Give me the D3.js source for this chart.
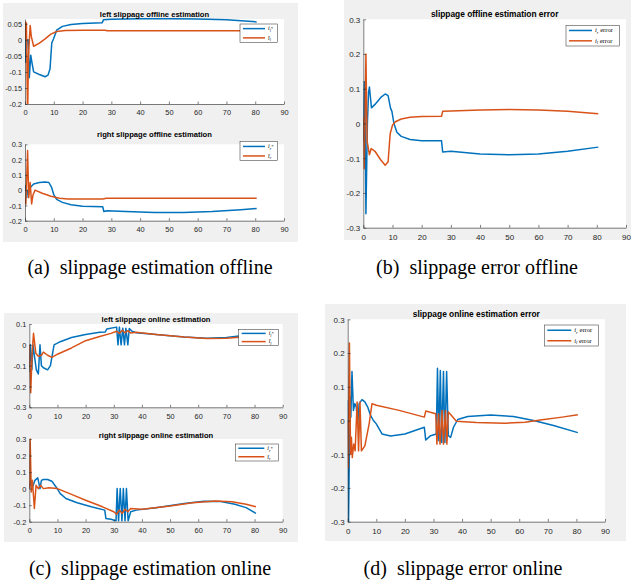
<!DOCTYPE html>
<html>
<head>
<meta charset="utf-8">
<script src="https://cdn.jsdelivr.net/npm/d3@7"></script>
<style>
  html, body { margin: 0; padding: 0; background: #ffffff; }
  svg { display: block; }
</style>
</head>
<body>
<svg id="fig" width="631" height="585"></svg>
<script>
// ---- data: [time, value] samples for each estimate ----
const xTicks = [0, 10, 20, 30, 40, 50, 60, 70, 80, 90];

// (a) offline, left wheel
const leftOffTrue = [[0,0.02],[0.3,-0.07],[0.6,0.0],[1.1,0.0],[1.5,-0.118],[2.0,-0.048],[2.4,-0.07],[3,-0.1],[5,-0.108],[7,-0.115],[8,-0.11],[8.7,-0.09],[9.3,-0.01],[10,0.005],[11,0.03],[13,0.042],[16,0.048],[20,0.051],[26.8,0.053],[27.3,0.063],[30,0.064],[40,0.066],[50,0.066],[60,0.065],[70,0.063],[80.5,0.056]];
const leftOffEst = [[0,0.0],[0.3,0.055],[0.5,0.05],[0.9,-0.25],[1.2,-0.05],[1.8,0.045],[2.2,0.01],[3,-0.02],[5,-0.01],[7,0.003],[9,0.018],[11,0.026],[14,0.029],[20,0.03],[28,0.03],[28.5,0.028],[50,0.028],[80.5,0.028]];
// (a) offline, right wheel
const rightOffTrue = [[0,0.0],[0.3,0.03],[0.6,-0.05],[0.9,0.0],[1.3,0.0],[2,0.02],[3,0.04],[5,0.05],[7,0.053],[8.3,0.05],[9.2,0.02],[10,-0.03],[11,-0.06],[13,-0.08],[16,-0.095],[20,-0.105],[27,-0.108],[27.4,-0.14],[28.5,-0.135],[35,-0.14],[45,-0.146],[55,-0.146],[65,-0.14],[75,-0.128],[80.5,-0.12]];
const rightOffEst = [[0,-0.05],[0.3,-0.09],[0.9,0.26],[1.3,-0.05],[1.8,0.05],[2.3,-0.09],[2.8,-0.03],[3.5,0.0],[6,-0.02],[9,-0.04],[12,-0.053],[15,-0.058],[27,-0.058],[28.3,-0.053],[80.5,-0.053]];
// (b) offline errors
const offErrR = [[0,-0.05],[0.3,0.12],[0.5,0.12],[0.9,-0.26],[1.4,0.0],[1.8,0.09],[2.1,0.105],[2.8,0.045],[4,0.055],[6,0.075],[7.5,0.085],[8.5,0.08],[9.3,0.045],[9.8,0.035],[10.5,0.0],[11.5,-0.025],[13,-0.037],[16,-0.046],[20,-0.05],[26.8,-0.05],[27.2,-0.082],[30,-0.08],[40,-0.088],[50,-0.09],[60,-0.088],[70,-0.08],[80.5,-0.068]];
const offErrL = [[0,0.02],[0.3,-0.13],[0.9,0.2],[1.3,-0.05],[1.7,-0.07],[2.1,-0.09],[2.7,-0.072],[4,-0.08],[6,-0.105],[7.5,-0.12],[8.5,-0.11],[9.2,-0.03],[10,-0.005],[11,0.005],[13,0.013],[16,0.018],[20,0.02],[26.8,0.021],[27.2,0.035],[30,0.036],[40,0.039],[50,0.04],[60,0.039],[70,0.035],[80.5,0.028]];
// (c) online, left wheel
const leftOnTrue = [[0,-0.13],[0.4,0.0],[0.9,-0.12],[1.3,0.0],[1.8,-0.05],[2.5,-0.12],[3.2,-0.14],[3.8,0.0],[4.3,-0.1],[5,-0.11],[6.5,-0.12],[7.5,-0.1],[8.8,0.0],[11,0.015],[15,0.035],[20,0.05],[25,0.06],[27,0.062],[27.5,0.076],[31,0.085],[31.5,0.0],[32,0.085],[32.6,0.0],[33.2,0.08],[33.8,0.0],[34.3,0.08],[35,0.0],[35.5,0.078],[36.5,0.065],[38,0.058],[45,0.05],[55,0.038],[63,0.032],[70,0.035],[76,0.045],[80.5,0.055]];
const leftOnEst = [[0,0.0],[0.5,-0.23],[1.0,-0.04],[1.5,0.055],[2.3,-0.04],[3.2,-0.055],[4.3,-0.05],[5,-0.035],[6.5,-0.05],[8,-0.06],[10,-0.045],[15,-0.015],[20,0.02],[25,0.04],[29,0.055],[31,0.065],[32,0.055],[33,0.07],[34,0.058],[35,0.068],[36,0.057],[38,0.06],[45,0.05],[55,0.037],[63,0.03],[70,0.032],[80.5,0.042]];
// (c) online, right wheel
const rightOnTrue = [[0,0.0],[0.5,0.05],[1.0,0.0],[2,0.05],[3,0.065],[3.8,0.0],[4.3,0.05],[5,0.055],[6.5,0.055],[8,0.045],[9.5,0.01],[11,-0.03],[13,-0.06],[17,-0.085],[22,-0.11],[26.8,-0.13],[27.2,-0.18],[29,-0.185],[30.8,-0.195],[31.2,0.0],[31.7,-0.195],[32.3,0.0],[32.9,-0.195],[33.4,0.0],[34,-0.195],[34.5,0.0],[35.1,-0.195],[36,-0.14],[38,-0.13],[45,-0.115],[55,-0.09],[62,-0.077],[68,-0.078],[73,-0.095],[77,-0.115],[80.5,-0.15]];
const rightOnEst = [[0,0.0],[0.3,0.3],[0.7,-0.02],[1.1,0.05],[1.8,-0.12],[2.4,0.02],[3.2,0.0],[4,0.02],[5,0.0],[7,0.005],[10,0.0],[15,-0.035],[20,-0.07],[26,-0.11],[30,-0.14],[31,-0.155],[32,-0.13],[33,-0.15],[34,-0.125],[35,-0.14],[36,-0.12],[40,-0.125],[50,-0.105],[58,-0.085],[66,-0.075],[72,-0.08],[77,-0.095],[80.5,-0.11]];
// (d) online errors
const onErrR = [[0,0.06],[0.3,-0.3],[0.8,0.07],[1.1,0.01],[1.5,0.145],[2,0.03],[2.5,0.05],[3,0.04],[3.5,-0.01],[4,0.05],[5,0.062],[6,0.055],[7,0.04],[8,0.015],[9,0.0],[10,-0.01],[12,-0.04],[15,-0.046],[20,-0.04],[26.8,-0.02],[27.3,-0.058],[29,-0.045],[31,-0.04],[31.4,0.155],[31.9,-0.06],[32.4,0.148],[32.9,-0.065],[33.5,0.145],[34,-0.065],[34.6,0.145],[35.2,-0.045],[36,-0.05],[37,-0.02],[38.5,0.003],[42,0.012],[50,0.016],[58,0.012],[65,0.0],[72,-0.015],[80.5,-0.036]];
const onErrL = [[0,0.0],[0.2,-0.14],[0.6,0.23],[1.0,-0.1],[1.3,-0.05],[1.6,-0.11],[2.1,-0.07],[2.6,-0.09],[3.3,0.055],[3.8,-0.09],[4.3,0.055],[4.8,-0.09],[6,-0.075],[7.5,-0.01],[8.5,0.05],[10,0.045],[18,0.03],[26.8,0.01],[27.3,0.028],[30.8,0.02],[31.2,-0.07],[31.8,0.02],[32.3,-0.07],[33,0.03],[33.5,-0.07],[34.2,0.03],[34.7,-0.07],[35.2,0.025],[36,0.018],[38,-0.002],[45,-0.006],[55,-0.008],[62,-0.005],[68,0.002],[75,0.01],[80.5,0.017]];

// y tick values per axes
const yTicksLeftOff = [-0.2, -0.15, -0.1, -0.05, 0, 0.05];
const yTicksRightOff = [-0.2, -0.1, 0, 0.1, 0.2, 0.3];
const yTicksErr = [-0.3, -0.2, -0.1, 0, 0.1, 0.2, 0.3];
const yTicksLeftOn = [-0.3, -0.2, -0.1, 0, 0.1];
const yTicksRightOn = [-0.2, -0.1, 0, 0.1, 0.2, 0.3];

const captions = ["(a)  slippage estimation offline", "(b)  slippage error offline",
                  "(c)  slippage estimation online", "(d)  slippage error online"];

// ---- styling ----
const BLUE = "#0072BD", ORANGE = "#D95319", AXIS = "#262626", BG = "#F0F0F0";
const svg = d3.select("#fig");

// grey figure backgrounds
const figures = [
  {x: 3, y: 3, w: 295, h: 239},
  {x: 344, y: 0, w: 287, h: 240},
  {x: 4, y: 313, w: 294, h: 229},
  {x: 325, y: 304, w: 301, h: 237}
];
svg.selectAll("rect.fig").data(figures).join("rect")
  .attr("class", "fig")
  .attr("x", d => d.x).attr("y", d => d.y).attr("width", d => d.w).attr("height", d => d.h)
  .attr("fill", BG);

const fmt = v => String(+v.toFixed(2));
let clipId = 0;

function panel(o) {
  const x = d3.scaleLinear().domain([0, 90]).range([o.left, o.right]);
  const y = d3.scaleLinear().domain(o.ydom).range([o.bottom, o.top]);
  const g = svg.append("g");
  g.append("rect").attr("x", o.left).attr("y", o.top)
    .attr("width", o.right - o.left).attr("height", o.bottom - o.top).attr("fill", "#fff");

  const id = "clip" + (clipId++);
  g.append("clipPath").attr("id", id).append("rect")
    .attr("x", o.left).attr("y", o.top - 1).attr("width", o.right - o.left).attr("height", o.bottom - o.top + 1);

  const line = d3.line().x(d => x(d[0])).y(d => y(d[1]));
  const series = [{d: o.s1, c: BLUE}, {d: o.s2, c: ORANGE}];
  g.append("g").attr("clip-path", `url(#${id})`)
    .selectAll("path").data(series).join("path")
    .attr("d", s => line(s.d)).attr("fill", "none")
    .attr("stroke", s => s.c).attr("stroke-width", o.lw).attr("stroke-linejoin", "round");

  const tl = o.tick;
  const xa = g.append("g").attr("transform", `translate(0,${o.bottom})`)
    .call(d3.axisBottom(x).tickValues(xTicks).tickSizeInner(-tl).tickSizeOuter(0).tickPadding(o.fs * 0.55 + 2).tickFormat(d3.format("d")));
  const ya = g.append("g").attr("transform", `translate(${o.left},0)`)
    .call(d3.axisLeft(y).tickValues(o.yticks).tickSizeInner(-tl).tickSizeOuter(0).tickPadding(3).tickFormat(fmt));
  [xa, ya].forEach(a => {
    a.select(".domain").attr("stroke", AXIS).attr("stroke-width", 0.6);
    a.selectAll(".tick line").attr("stroke", AXIS).attr("stroke-width", 0.6);
    a.selectAll(".tick text").attr("fill", AXIS).attr("font-family", "Liberation Sans, Arial, sans-serif").attr("font-size", o.fs);
  });
  ya.selectAll(".tick text").attr("dy", "0.35em");

  g.append("text").attr("x", (o.left + o.right) / 2).attr("y", o.titleY)
    .attr("text-anchor", "middle").attr("font-family", "Liberation Sans, Arial, sans-serif")
    .attr("font-weight", "bold").attr("font-size", o.tfs).attr("fill", "#000").text(o.title);

  // legend
  const L = o.legend;
  const lg = g.append("g");
  lg.append("rect").attr("x", L.x).attr("y", L.y).attr("width", L.w).attr("height", L.h)
    .attr("fill", "#fff").attr("stroke", AXIS).attr("stroke-width", 0.5);
  const rowH = L.h / 2;
  L.labels.forEach((lab, i) => {
    const cy = L.y + rowH * (i + 0.5);
    lg.append("line").attr("x1", L.x + 3).attr("x2", L.x + 3 + L.sample).attr("y1", cy).attr("y2", cy)
      .attr("stroke", i === 0 ? BLUE : ORANGE).attr("stroke-width", o.lw);
    const t = lg.append("text").attr("x", L.x + 6 + L.sample).attr("y", cy + L.fs * 0.3)
      .attr("font-family", "Liberation Serif, Times New Roman, serif").attr("font-size", L.fs).attr("fill", "#000");
    t.append("tspan").attr("font-style", "italic").text(lab[0]);
    t.append("tspan").attr("font-style", "italic").attr("font-size", L.fs * 0.7).attr("dy", L.fs * 0.25).text(lab[1]);
    if (lab[2]) t.append("tspan").attr("font-size", L.fs * (lab[2] === "*" ? 0.8 : 1)).attr("dy", -L.fs * 0.25).text(lab[2]);
  });
}

// (a) top and bottom
panel({left: 25, right: 284, top: 19, bottom: 104, ydom: [-0.2, 0.065], yticks: yTicksLeftOff,
  s1: leftOffTrue, s2: leftOffEst, fs: 7.4, tfs: 7.6, lw: 1.5, tick: 2.5, titleY: 16.5,
  title: "left slippage offline estimation",
  legend: {x: 240, y: 24, w: 37.5, h: 18.5, sample: 22, fs: 6, labels: [["i", "l", "*"], ["î", "l", ""]]}});
panel({left: 25, right: 284, top: 144.3, bottom: 220.7, ydom: [-0.2, 0.3], yticks: yTicksRightOff,
  s1: rightOffTrue, s2: rightOffEst, fs: 7.4, tfs: 7.6, lw: 1.5, tick: 2.5, titleY: 136.5,
  title: "right slippage offline estimation",
  legend: {x: 240, y: 141.7, w: 37.5, h: 19, sample: 22, fs: 6, labels: [["i", "r", "*"], ["î", "r", ""]]}});
// (b)
panel({left: 363.3, right: 626, top: 19.3, bottom: 227.7, ydom: [-0.3, 0.3], yticks: yTicksErr,
  s1: offErrR, s2: offErrL, fs: 8, tfs: 8.4, lw: 1.5, tick: 2.8, titleY: 17,
  title: "slippage offline estimation error",
  legend: {x: 566, y: 25.3, w: 53.3, h: 20.7, sample: 23, fs: 6.5, labels: [["i", "r", "  error"], ["i", "l", "  error"]]}});
// (c) top and bottom
panel({left: 29.3, right: 282.7, top: 324, bottom: 407.3, ydom: [-0.3, 0.1], yticks: yTicksLeftOn,
  s1: leftOnTrue, s2: leftOnEst, fs: 7.4, tfs: 7.6, lw: 1.5, tick: 2.5, titleY: 321.5,
  title: "left slippage online estimation",
  legend: {x: 238.7, y: 329.3, w: 40, h: 16.4, sample: 24, fs: 6, labels: [["i", "l", "*"], ["î", "l", ""]]}});
panel({left: 29.3, right: 282.7, top: 439, bottom: 521.7, ydom: [-0.2, 0.3], yticks: yTicksRightOn,
  s1: rightOnTrue, s2: rightOnEst, fs: 7.4, tfs: 7.6, lw: 1.5, tick: 2.5, titleY: 437.5,
  title: "right slippage online estimation",
  legend: {x: 235.3, y: 444, w: 43.4, h: 17, sample: 26, fs: 6, labels: [["i", "r", "*"], ["î", "r", ""]]}});
// (d)
panel({left: 347.7, right: 605, top: 319.3, bottom: 521.7, ydom: [-0.3, 0.3], yticks: yTicksErr,
  s1: onErrR, s2: onErrL, fs: 8, tfs: 8.4, lw: 1.5, tick: 2.8, titleY: 316.5,
  title: "slippage online estimation error",
  legend: {x: 544.3, y: 325, w: 54.4, h: 21, sample: 24, fs: 6.5, labels: [["i", "r", " error"], ["i", "l", " error"]]}});

// sub-figure captions
const capPos = [{x: 150, y: 274}, {x: 477, y: 274}, {x: 150, y: 575}, {x: 463, y: 575}];
svg.selectAll("text.cap").data(captions).join("text")
  .attr("class", "cap")
  .attr("x", (d, i) => capPos[i].x).attr("y", (d, i) => capPos[i].y)
  .attr("text-anchor", "middle")
  .attr("font-family", "Liberation Serif, Times New Roman, serif")
  .attr("font-size", 20).attr("fill", "#000")
  .style("white-space", "pre")
  .text(d => d);
</script>
</body>
</html>
